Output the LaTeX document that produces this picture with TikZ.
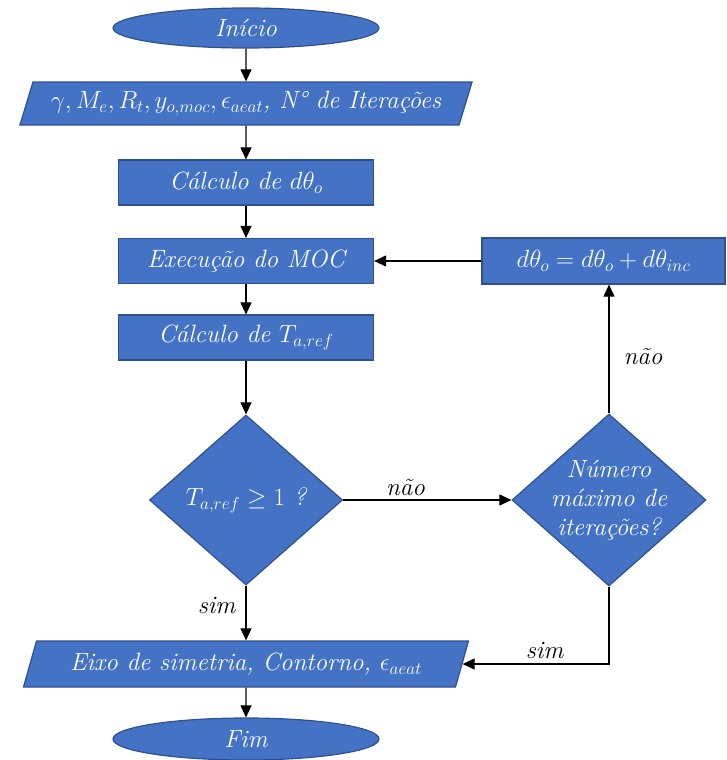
\documentclass[tikz,border=0pt]{standalone}
\usetikzlibrary{shapes.geometric,arrows.meta}
\definecolor{boxfill}{HTML}{4472C4}
\definecolor{boxline}{HTML}{2F528F}
\begin{document}
\begin{tikzpicture}[x=1pt,y=-1pt,
  every node/.style={font=\fontsize{25}{29}\selectfont\itshape},
  blk/.style={draw=boxline, fill=boxfill, line width=1.2pt, text=white, inner sep=0pt},
  procbox/.style={blk, rectangle, minimum width=255pt, minimum height=45pt},
  term/.style={blk, ellipse, minimum width=266pt, minimum height=40pt},
  iobox/.style={blk, trapezium, trapezium left angle=64, trapezium right angle=116, trapezium stretches=true},
  decision/.style={blk, diamond, aspect=1.12, inner sep=-20pt},
  conn/.style={line width=1.1pt, -{Triangle[length=12pt,width=11pt]}},
  lbl/.style={text=black}]
\useasboundingbox (0,0) rectangle (726,760);

\node[term] (ini) at (246,28) {Início};
\node[iobox, minimum width=453pt, minimum height=43pt] (inp) at (246,103.5)
  {$\gamma, M_e, R_t, y_{o,moc}, \epsilon_{aeat}$, N° de Iterações};
\node[procbox] (c1) at (246,182.5) {Cálculo de $d\theta_o$};
\node[procbox] (moc) at (246,261) {Execução do MOC};
\node[procbox] (ct) at (246,337.5) {Cálculo de $T_{a,ref}$};
\node[decision, minimum width=193pt, minimum height=170pt] (d1) at (246,500) {$T_{a,ref} \geq 1$ ?};
\node[decision, minimum width=194pt, minimum height=172pt, align=center] (d2) at (609,500)
  {Número\\máximo de\\iterações?};
\node[procbox, minimum width=243pt, minimum height=46pt] (inc) at (603.5,261)
  {$d\theta_o = d\theta_o + d\theta_{inc}$};
\node[iobox, minimum width=446pt, minimum height=46pt] (out) at (246,664)
  {Eixo de simetria, Contorno, $\epsilon_{aeat}$};
\node[term, minimum height=42pt] (fim) at (246,739) {Fim};

\draw[conn] (ini) -- (inp);
\draw[conn] (inp) -- (c1);
\draw[conn] (c1) -- (moc);
\draw[conn] (moc) -- (ct);
\draw[conn] (ct) -- (d1);
\draw[conn] (d1) -- node[lbl, above, pos=0.37, inner sep=4pt]{não} (d2);
\draw[conn] (d2.north) -- node[lbl, right, pos=0.44, inner sep=14pt]{não} (d2.north |- inc.south);
\draw[conn] (inc) -- (moc);
\draw[conn] (d1) -- node[lbl, left, pos=0.36, inner sep=10pt]{sim} (out);
\draw[conn] (d2.south) |- node[lbl, above, pos=0.72, inner sep=5pt]{sim} (out.east);
\draw[conn] (out) -- (fim);
\end{tikzpicture}
\end{document}
